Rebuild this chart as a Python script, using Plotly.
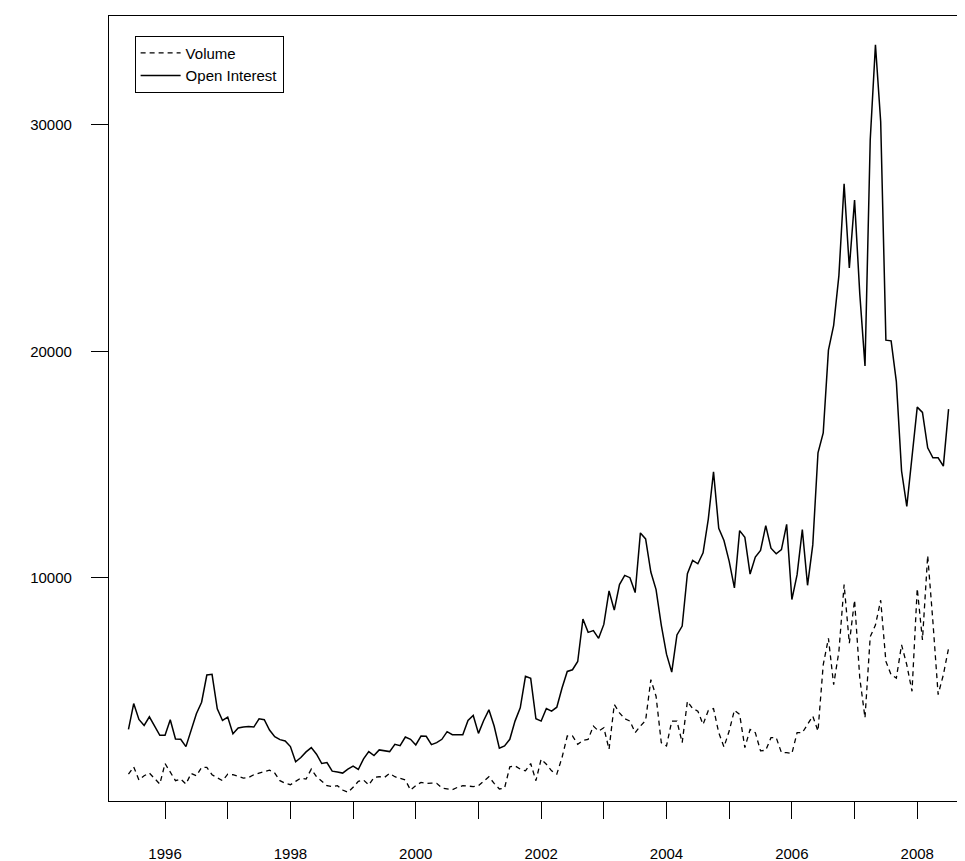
import plotly.graph_objects as go

start_year = 1995 + 5 / 12  # June 1995, monthly

volume = [
    1338, 1656, 1075, 1265, 1382, 1118, 899, 1805, 1411, 1046, 1118, 899,
    1367, 1265, 1630, 1630, 1309, 1191, 1046, 1338, 1309, 1236, 1162, 1191,
    1309, 1382, 1455, 1513, 1382, 1046, 928, 870, 1016, 1162, 1118, 1557,
    1221, 1016, 826, 782, 826, 636, 533, 753, 1016, 1075, 855, 1191,
    1221, 1191, 1367, 1221, 1162, 1075,
    636, 826, 972, 928, 943, 928, 724, 680, 650, 753, 826, 811,
    782, 826, 1046, 1221, 928, 680, 724, 1656, 1703, 1557, 1484, 1805,
    1046, 1996, 1776, 1484, 1338, 2068, 3019, 3019, 2654, 2829, 2873, 3458,
    3238, 3384, 2434, 4408, 4042, 3780, 3677, 3165, 3458, 3706, 5504, 4774,
    2726, 2580, 3677, 3677, 2726, 4554,
    4232, 4115, 3531, 4145, 4232, 3165, 2537, 3238, 4159, 3969, 2507, 3311,
    3165, 2361, 2390, 2946, 2946, 2288, 2288, 2244, 3165, 3165, 3531, 3896,
    3238, 6162, 7332, 5285, 6747, 9700, 7113, 9013, 5577, 3823, 7405, 7917,
    9013, 6309, 5724, 5577, 7040, 6162, 4993, 9526, 7259, 10987, 8062, 4846,
    5724, 6894,
]

open_interest = [
    3311, 4452, 3750, 3487, 3867, 3458, 3048, 3048, 3736, 2888, 2873, 2551,
    3268, 3999, 4511, 5710, 5740, 4218, 3706, 3853, 3121, 3370, 3414, 3443,
    3414, 3780, 3736, 3282, 2990, 2858, 2800, 2551, 1878, 2068, 2317, 2507,
    2215, 1805, 1849, 1469, 1425, 1382, 1557, 1689, 1542, 2010, 2331, 2156,
    2405, 2375, 2331, 2654, 2595, 2975,
    2873, 2624, 3019, 3004, 2639, 2726, 2873, 3209, 3077, 3077, 3077, 3706,
    3925, 3136, 3706, 4174, 3458, 2478, 2580, 2873, 3677, 4262, 5651, 5564,
    3780, 3677, 4233, 4116, 4291, 5139, 5870, 5943, 6309, 8180, 7593, 7672,
    7329, 7944, 9422, 8574, 9701, 10110, 10007, 9349, 11982, 11718, 10256, 9480,
    7917, 6630, 5840, 7478, 7873, 10182,
    10768, 10621, 11104, 12596, 14685, 12186, 11645, 10724, 9554, 12084, 11791, 10168,
    10914, 11206, 12303, 11309, 11060, 11250, 12362, 9042, 10139, 12128, 9671, 11455,
    15519, 16396, 20052, 21148, 23342, 27390, 23677, 26672, 22535, 19351, 29334, 33530,
    30140, 20491, 20461, 18662, 14715, 13150, 15300, 17537, 17303, 15738, 15300, 15300,
    14934, 17449,
]

x = [start_year + i / 12 for i in range(len(volume))]

year_ticks = list(range(1996, 2009))
year_labels = [str(y) if y % 2 == 0 else "" for y in year_ticks]
y_ticks = [10000, 20000, 30000]
y_labels = [str(v) for v in y_ticks]

fig = go.Figure()
fig.add_trace(go.Scatter(x=x, y=volume, mode="lines", name="Volume",
                         line=dict(color="black", width=1.3, dash="5px,4px")))
fig.add_trace(go.Scatter(x=x, y=open_interest, mode="lines", name="Open Interest",
                         line=dict(color="black", width=1.5)))

axis_style = dict(showline=True, linecolor="black", linewidth=1.3, mirror=True,
                  showgrid=False, zeroline=False, ticks="outside", ticklen=17,
                  tickcolor="black", tickwidth=1.3,
                  tickfont=dict(family="Liberation Sans, Arial", size=15, color="black"))

fig.update_xaxes(range=[1995.106, 2008.73], tickvals=year_ticks, ticktext=year_labels,
                 ticklabelstandoff=22, **axis_style)
fig.update_yaxes(range=[150, 34800], tickvals=y_ticks, ticktext=y_labels,
                 ticklabelstandoff=16, **axis_style)

fig.update_layout(
    width=965, height=861,
    margin=dict(l=101, r=10, t=7, b=64),
    plot_bgcolor="white", paper_bgcolor="white",
    font=dict(family="Liberation Sans, Arial", size=15, color="black"),
    legend=dict(x=0.03, y=0.975, xanchor="left", yanchor="top",
                bordercolor="black", borderwidth=1, bgcolor="white",
                font=dict(size=15), tracegroupgap=0, itemwidth=40),
    showlegend=True,
)

fig.write_html("out.html")
